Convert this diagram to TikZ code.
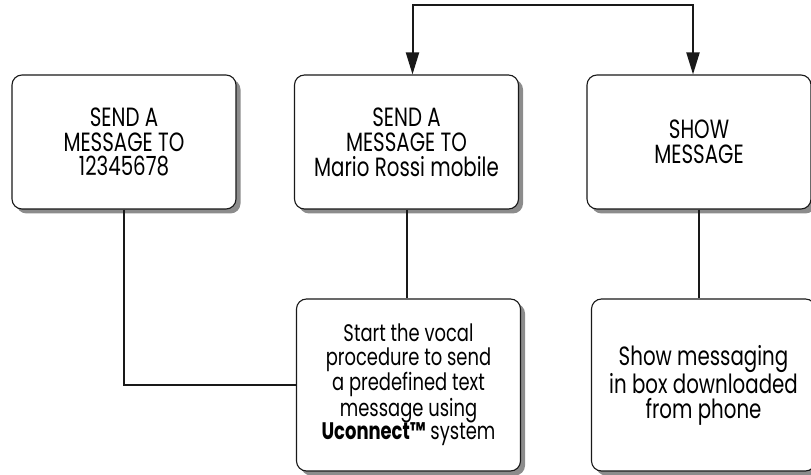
\documentclass[tikz,border=0pt]{standalone}
\usepackage{fontspec}
\setmainfont{Poppins}[FakeStretch=0.75]
\usetikzlibrary{shadows,arrows.meta}
\tikzset{
  box/.style={draw=black!90, rounded corners=10bp, line width=1.1bp, fill=white,
    minimum width=224bp, minimum height=134bp, inner sep=0pt, align=center,
    font=\fontsize{26.5}{25}\selectfont\color{black},
    drop shadow={shadow xshift=4.5bp, shadow yshift=-4.5bp, fill=black!45, opacity=1}},
  tall/.style={minimum height=172bp},
  smalltext/.style={font=\fontsize{24}{23.75}\selectfont\color{black}},
  conn/.style={line width=2bp, draw=black!90},
  arr/.style={conn, line join=miter, {Triangle[length=22bp,width=13bp]}-{Triangle[length=22bp,width=13bp]}}
}
\begin{document}
\begin{tikzpicture}[x=1bp,y=-1bp]
\useasboundingbox (0,0) rectangle (811,475);
\node[box] (b1) at (124,142) {SEND A\\MESSAGE TO\\12345678};
\node[box] (b2) at (406.5,142) {SEND A\\MESSAGE TO\\Mario Rossi mobile};
\node[box] (b3) at (699,142) {SHOW\\MESSAGE};
\node[box,tall,smalltext] (b4) at (408.5,385) {Start the vocal\\procedure to send\\a predefined text\\message using\\\textbf{Uconnect\texttrademark} system};
\node[box,tall] (b5) at (703.5,385) {Show messaging\\in box downloaded\\from phone};
\coordinate (top) at (550,5);
\draw[arr] ([xshift=6bp]b2.north) |- (top) -| ([xshift=-6bp]b3.north);
\draw[conn] (b1.south) |- (b4.west);
\draw[conn] (b2.south) -- (b2.south |- b4.north);
\draw[conn] (b3.south) -- (b3.south |- b5.north);
\end{tikzpicture}
\end{document}
